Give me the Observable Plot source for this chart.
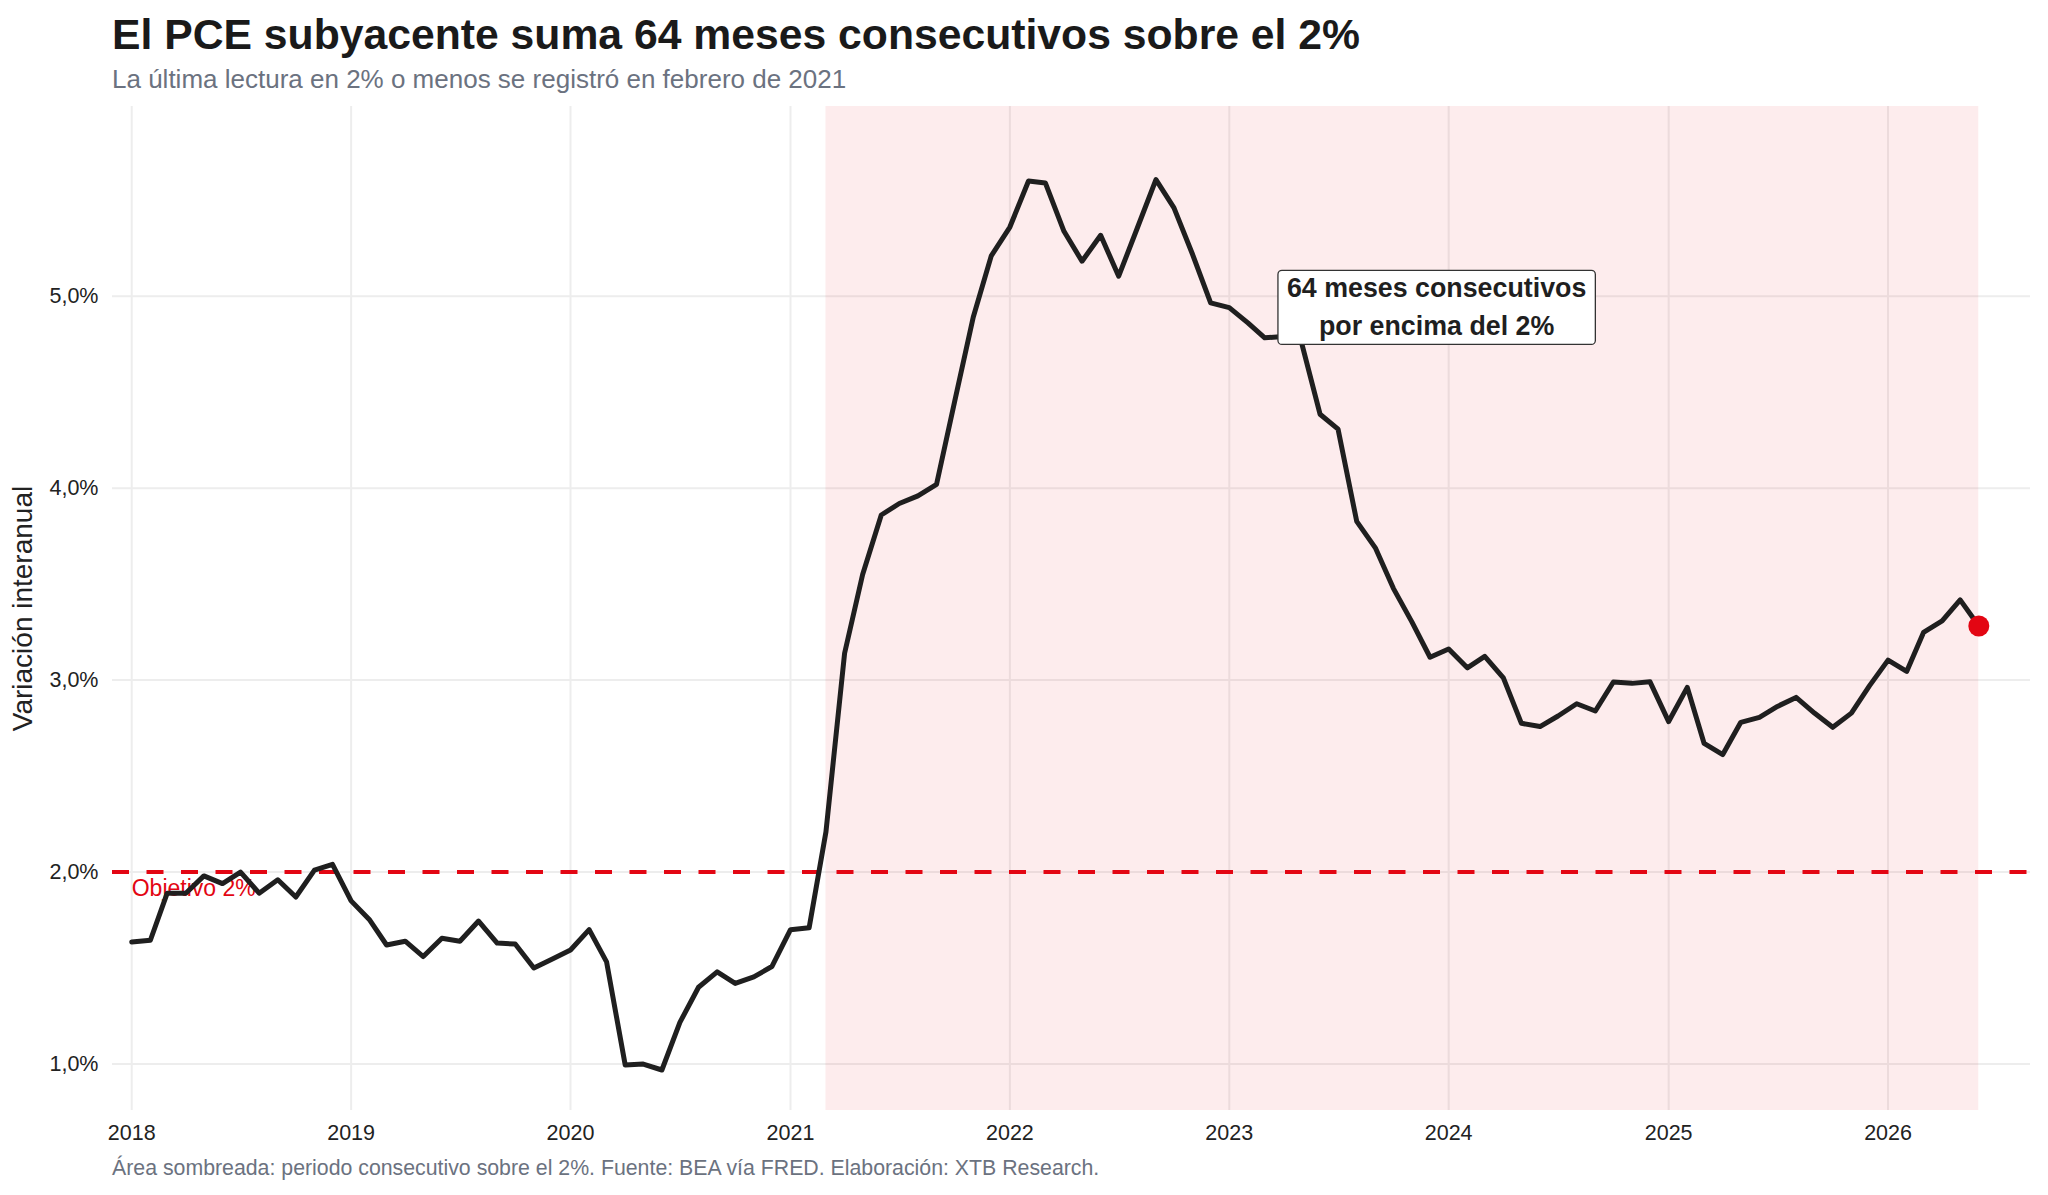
<!DOCTYPE html>
<html>
<head>
<meta charset="utf-8">
<script src="https://cdn.jsdelivr.net/npm/d3@7"></script>
<script src="https://cdn.jsdelivr.net/npm/@observablehq/plot@0.6"></script>
<style>
  html, body { margin: 0; padding: 0; background: #ffffff; }
  #wrap { position: relative; width: 2048px; height: 1195px; overflow: hidden; font-family: "Liberation Sans", Arial, Helvetica, sans-serif; }
  #title { position: absolute; left: 112px; top: 13px; font-size: 42.7px; line-height: 42.7px; font-weight: bold; color: #1a1a1a; white-space: nowrap; }
  #subtitle { position: absolute; left: 112px; top: 66px; font-size: 26px; line-height: 26px; color: #6b7280; white-space: nowrap; }
  #chart { position: absolute; left: 0; top: 95px; }
  #caption { position: absolute; left: 112px; top: 1158px; font-size: 21.3px; line-height: 21.3px; color: #6b7280; white-space: nowrap; }
</style>
</head>
<body>
<div id="wrap">
  <div id="title"></div>
  <div id="subtitle"></div>
  <div id="chart"></div>
  <div id="caption"></div>
</div>
<script>
// ---- Texts ----
const titleText = "El PCE subyacente suma 64 meses consecutivos sobre el 2%";
const subtitleText = "La última lectura en 2% o menos se registró en febrero de 2021";
const captionText = "Área sombreada: periodo consecutivo sobre el 2%. Fuente: BEA vía FRED. Elaboración: XTB Research.";
const yAxisTitle = "Variación interanual";

// ---- Data: core PCE, year-over-year % (monthly, from Jan 2018) ----
const firstMonth = "2018-01-01";
const coreYoY = [
  1.636, 1.645, 1.89, 1.89, 1.98, 1.94, 2.00, 1.89, 1.96, 1.87, 2.01, 2.04,   // 2018
  1.85, 1.75, 1.62, 1.64, 1.56, 1.655, 1.64, 1.745, 1.63, 1.625, 1.50, 1.546, // 2019
  1.594, 1.70, 1.532, 0.995, 1.00, 0.969, 1.217, 1.40, 1.48, 1.42, 1.454, 1.508, // 2020
  1.70, 1.71, 2.21, 3.14, 3.55, 3.86, 3.92, 3.96, 4.02, 4.45, 4.89, 5.21,     // 2021
  5.36, 5.60, 5.59, 5.338, 5.182, 5.317, 5.104, 5.355, 5.607, 5.46, 5.217, 4.965, // 2022
  4.94, 4.861, 4.783, 4.79, 4.76, 4.385, 4.307, 3.827, 3.689, 3.478, 3.302, 3.119, // 2023
  3.162, 3.064, 3.124, 3.012, 2.775, 2.758, 2.813, 2.877, 2.839, 2.99, 2.983, 2.991, // 2024
  2.784, 2.962, 2.67, 2.612, 2.78, 2.806, 2.863, 2.91, 2.827, 2.754, 2.828, 2.97,  // 2025
  3.104, 3.045, 3.248, 3.308, 3.418, 3.282                                      // 2026
];

// ---- Reference line, ticks, annotation ----
const targetValue = [2];
const targetLabel = ["Objetivo 2%"];
const targetLabelX = ["2018-01-01"];
const targetLabelY = [1.912];
const yTickValues = [1, 2, 3, 4, 5];
const xTickYears = ["2018", "2019", "2020", "2021", "2022", "2023", "2024", "2025", "2026"];
const annotationText = ["64 meses consecutivos\npor encima del 2%"];
const annotationX = ["2023-12-12"];
const annotationY = [4.958];
const xDomainDates = ["2017-11-30", "2026-08-26"];
const yDomainValues = [0.758, 5.988];

// ---- Build table ----
const start = new Date(firstMonth + "T00:00:00Z");
const months = d3.utcMonth.range(start, d3.utcMonth.offset(start, coreYoY.length));
const data = months.map((d, i) => ({date: d, value: coreYoY[i]}));
let lastAtOrBelow = -1;
data.forEach((d, i) => { if (d.value <= 2) lastAtOrBelow = i; });
const streak = [{x1: data[lastAtOrBelow + 1].date, x2: data[data.length - 1].date}];
const lastPoint = [data[data.length - 1]];
const xTicks = xTickYears.map(y => new Date(y + "-01-01T00:00:00Z"));
const toDate = s => new Date(s + "T00:00:00Z");

const red = "#E30613";

const plot = Plot.plot({
  width: 2048,
  height: 1055,
  marginTop: 11,
  marginBottom: 40,
  marginLeft: 112,
  marginRight: 18,
  style: {fontFamily: "'Liberation Sans', Arial, Helvetica, sans-serif", fontSize: "21.5px", color: "#222222", background: "transparent"},
  x: {type: "utc", domain: xDomainDates.map(toDate)},
  y: {domain: yDomainValues},
  marks: [
    Plot.gridY(yTickValues, {stroke: "#ededed", strokeOpacity: 1, strokeWidth: 2}),
    Plot.gridX(xTicks, {stroke: "#ededed", strokeOpacity: 1, strokeWidth: 2}),
    Plot.rect(streak, {x1: "x1", x2: "x2", fill: red, fillOpacity: 0.075}),
    Plot.ruleY(targetValue, {stroke: red, strokeWidth: 4, strokeDasharray: "17,17.5"}),
    Plot.text(targetLabel, {x: targetLabelX.map(toDate), y: targetLabelY, text: d => d, textAnchor: "start", fill: red, fontSize: 23}),
    Plot.line(data, {x: "date", y: "value", stroke: "#1f1f1f", strokeWidth: 5, strokeLinejoin: "round"}),
    Plot.dot(lastPoint, {x: "date", y: "value", r: 10.5, fill: red, stroke: "none"}),
    Plot.text(annotationText, {x: annotationX.map(toDate), y: annotationY, text: d => d, fontSize: 26.8, fontWeight: "bold", fill: "#1f1f1f", lineHeight: 1.42, lineAnchor: "middle"}),
    Plot.axisX(xTicks, {tickSize: 0, tickPadding: 14, tickFormat: d3.utcFormat("%Y"), label: null, fontSize: 21.5}),
    Plot.axisY(yTickValues, {tickSize: 0, tickPadding: 14, tickFormat: d => d.toFixed(1).replace(".", ",") + "%", label: yAxisTitle, labelAnchor: "center", labelArrow: "none", labelOffset: 100, fontSize: 21.5})
  ]
});

document.getElementById("title").textContent = titleText;
document.getElementById("subtitle").textContent = subtitleText;
document.getElementById("caption").textContent = captionText;
document.getElementById("chart").appendChild(plot);

// style y-axis label
d3.select(plot).selectAll("text").each(function() {
  if (this.textContent.trim() === yAxisTitle) {
    d3.select(this).attr("font-size", "28px").style("font-size", "28px").attr("fill", "#222222");
  }
});

// white box behind annotation
d3.select(plot).selectAll("text").each(function() {
  if (this.textContent.indexOf("64 meses") >= 0) {
    const bb = this.getBBox();
    const padX = 9, padY = 3;
    const rect = document.createElementNS("http://www.w3.org/2000/svg", "rect");
    rect.setAttribute("x", bb.x - padX);
    rect.setAttribute("y", bb.y - padY);
    rect.setAttribute("width", bb.width + 2 * padX);
    rect.setAttribute("height", bb.height + 2 * padY);
    rect.setAttribute("rx", 4);
    rect.setAttribute("fill", "#ffffff");
    rect.setAttribute("stroke", "#333333");
    rect.setAttribute("stroke-width", 1.3);
    const tr = this.getAttribute("transform");
    if (tr) rect.setAttribute("transform", tr);
    this.parentNode.insertBefore(rect, this);
  }
});
</script>
</body>
</html>
